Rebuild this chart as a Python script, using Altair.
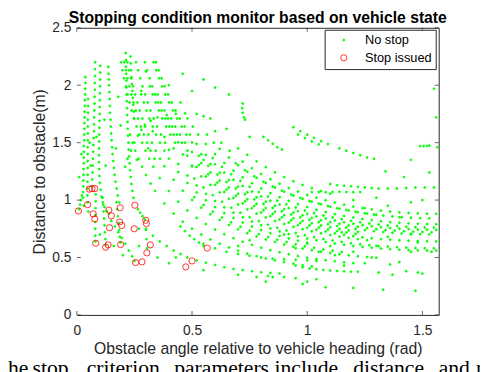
import altair as alt
import pandas as pd

# ---------------- data ----------------
# "No stop" samples, grouped by visible trajectory (angle rad, distance m)
st1_x = [0.037,0.037,0.036,0.036,0.035,0.035,0.034,0.034,0.033,0.033,0.032,0.032,0.031,0.031,0.030,0.030,0.029,0.029,0.028,0.028,0.027,0.027,0.022,0.018,0.014,0.010]
st1_y = [2.07,2.02,1.97,1.92,1.87,1.82,1.77,1.72,1.67,1.62,1.57,1.52,1.47,1.42,1.37,1.32,1.27,1.22,1.17,1.12,1.07,1.02,1.04,1.00,0.96,0.92]
st2_x = [0.080,0.079,0.079,0.078,0.078,0.077,0.077,0.076,0.075,0.075,0.074,0.073,0.072,0.071,0.070,0.069,0.068,0.067,0.066]
st2_y = [2.20,2.14,2.08,2.02,1.96,1.90,1.84,1.78,1.72,1.66,1.60,1.54,1.48,1.42,1.36,1.30,1.24,1.18,1.12]
st3_x = [0.102,0.102,0.101,0.101,0.100,0.100,0.099,0.099,0.098,0.098,0.097,0.097,0.097,0.096,0.096,0.097,0.098,0.100,0.103,0.107,0.113,0.120,0.130,0.140]
st3_y = [2.17,2.11,2.05,1.99,1.93,1.87,1.81,1.75,1.69,1.63,1.57,1.51,1.45,1.39,1.33,1.27,1.21,1.15,1.09,1.03,0.98,0.94,0.905,0.88]
st4_x = [0.137,0.138,0.139,0.140,0.141,0.142,0.143,0.144,0.146,0.147,0.149,0.151,0.153,0.155,0.158,0.161,0.164,0.168,0.173,0.178,0.184]
st4_y = [2.16,2.10,2.05,2.00,1.94,1.88,1.82,1.76,1.70,1.64,1.58,1.52,1.46,1.40,1.34,1.28,1.22,1.16,1.10,1.04,0.98]
st5_x = [0.212,0.213,0.213,0.214,0.215,0.215,0.216,0.217,0.218,0.219,0.220,0.221,0.222,0.224,0.225,0.227,0.229,0.231,0.234,0.237,0.241,0.246]
st5_y = [2.28,2.22,2.16,2.10,2.04,1.98,1.92,1.86,1.80,1.74,1.68,1.62,1.56,1.50,1.44,1.38,1.32,1.26,1.20,1.14,1.08,1.02]
st6_x = [0.049,0.049,0.049,0.048,0.048,0.048,0.048,0.047,0.047,0.047,0.047,0.047,0.046,0.046,0.046,0.047]
st6_y = [1.88,1.82,1.76,1.70,1.64,1.58,1.52,1.46,1.40,1.34,1.28,1.22,1.16,1.10,1.04,0.98]
st7_x = [0.082,0.082,0.081,0.081,0.080,0.080,0.080,0.081]
st7_y = [1.05,0.99,0.93,0.87,0.81,0.75,0.69,0.64]
st8_x = [0.112,0.114,0.116,0.118,0.120,0.122,0.124,0.126]
st8_y = [1.02,0.96,0.90,0.84,0.78,0.72,0.66,0.61]
st9_x = [0.150,0.165,0.180,0.195,0.210,0.225,0.240,0.250]
st9_y = [0.82,0.77,0.72,0.67,0.62,0.56,0.51,0.47]
st10_x = [0.172,0.175,0.178,0.181,0.184,0.187,0.189]
st10_y = [0.98,0.92,0.86,0.80,0.74,0.68,0.63]
st11_x = [0.265,0.275,0.285,0.295,0.300,0.303,0.305]
st11_y = [0.92,0.89,0.86,0.83,0.74,0.66,0.58]
st12_x = [0.233,0.234,0.236,0.237,0.239,0.241,0.243,0.245,0.247,0.249]
st12_y = [2.25,2.19,2.13,2.07,2.01,1.95,1.89,1.83,1.77,1.71]
st13_x = [0.45,0.47,0.49,0.51,0.53,0.55]
st13_y = [0.77,0.73,0.69,0.66,0.63,0.60]

low1_x = [0.30,0.33,0.36,0.39,0.42,0.45,0.48,0.52,0.56,0.60,0.64,0.68,0.72,0.76,0.80,0.84,0.88]
low1_y = [0.75,0.69,0.64,0.60,0.56,0.53,0.50,0.475,0.455,0.435,0.415,0.40,0.39,0.38,0.372,0.366,0.36]
low2_x = [0.55,0.60,0.65,0.70,0.75,0.80,0.85,0.90,0.95,1.00,1.04]
low2_y = [0.62,0.58,0.55,0.53,0.515,0.50,0.49,0.485,0.48,0.475,0.47]
low3_x = [0.95,0.98,1.01,1.04,1.07,1.10,1.13,1.16,1.19,1.22]
low3_y = [0.43,0.415,0.405,0.398,0.392,0.387,0.383,0.38,0.377,0.375]

h1_x = [0.231,0.242,0.254,0.268,0.283,0.30,0.32,0.34,0.38,0.42,0.46,0.50,0.54,0.58,0.62,0.66,0.70,0.74,0.78,0.82,0.86,0.90,0.94,0.98,1.02]
h1_y = [1.57,1.50,1.43,1.36,1.29,1.218,1.144,1.080,0.971,0.883,0.811,0.751,0.700,0.657,0.620,0.587,0.559,0.534,0.512,0.492,0.475,0.460,0.446,0.433,0.423]
h2_x = [0.192,0.198,0.205,0.213,0.221,0.229,0.238,0.248,0.259,0.271,0.284,0.298,0.314,0.332,0.36,0.40,0.44,0.48,0.52,0.56,0.60,0.64,0.68,0.72,0.76,0.80,0.84,0.88,0.92,0.96,1.00,1.04,1.08,1.12,1.16,1.20]
h2_y = [2.20,2.13,2.06,1.99,1.92,1.85,1.78,1.71,1.64,1.57,1.50,1.43,1.36,1.29,1.192,1.079,0.986,0.910,0.845,0.791,0.744,0.703,0.668,0.637,0.610,0.585,0.564,0.545,0.528,0.513,0.499,0.487,0.476,0.467,0.458,0.451]
h3_x = [0.220,0.227,0.235,0.244,0.253,0.263,0.273,0.285,0.297,0.311,0.326,0.342,0.361,0.38,0.42,0.46,0.50,0.54,0.58,0.62,0.66,0.70,0.74,0.78,0.82,0.86,0.90,0.94,0.98,1.02,1.06,1.10,1.14,1.18,1.22,1.26,1.30]
h3_y = [2.20,2.13,2.06,1.99,1.92,1.85,1.78,1.71,1.64,1.57,1.50,1.43,1.36,1.294,1.177,1.081,1.001,0.934,0.876,0.826,0.783,0.745,0.712,0.683,0.657,0.634,0.613,0.594,0.578,0.564,0.550,0.539,0.528,0.519,0.511,0.504,0.498]
h4_x = [0.280,0.291,0.302,0.315,0.329,0.344,0.361,0.380,0.40,0.44,0.48,0.52,0.56,0.60,0.64,0.68,0.72,0.76,0.80,0.84,0.88,0.92,0.96,1.00]
h4_y = [1.92,1.85,1.78,1.71,1.64,1.57,1.50,1.43,1.361,1.244,1.148,1.066,0.998,0.939,0.887,0.843,0.804,0.770,0.739,0.712,0.688,0.666,0.647,0.630]
h5_x = [0.257,0.266,0.275,0.285,0.296,0.308,0.320,0.334,0.348,0.365,0.383,0.40,0.44,0.48,0.52,0.56,0.60,0.64,0.68,0.72,0.76,0.80,0.84,0.88,0.92,0.96,1.00,1.04,1.08,1.12,1.16,1.20,1.24,1.28,1.32,1.36,1.40,1.44,1.48,1.52,1.56]
h5_y = [2.20,2.13,2.06,1.99,1.92,1.85,1.78,1.71,1.64,1.57,1.50,1.438,1.315,1.213,1.127,1.054,0.992,0.937,0.890,0.850,0.813,0.781,0.752,0.727,0.704,0.684,0.665,0.650,0.635,0.622,0.611,0.601,0.592,0.585,0.578,0.573,0.568,0.565,0.562,0.561,0.560]
h6_x = [0.317,0.329,0.342,0.356,0.371,0.388,0.406,0.426,0.46,0.50,0.54,0.58,0.62,0.66,0.70,0.74,0.78,0.82,0.86,0.90,0.94,0.98,1.02,1.06,1.10,1.14,1.18,1.22,1.26]
h6_y = [1.99,1.92,1.85,1.78,1.71,1.64,1.57,1.50,1.397,1.293,1.206,1.132,1.067,1.011,0.962,0.919,0.882,0.848,0.818,0.792,0.768,0.746,0.728,0.711,0.696,0.683,0.671,0.660,0.651]
h7_x = [0.295,0.305,0.316,0.327,0.340,0.353,0.368,0.384,0.401,0.420,0.44,0.48,0.52,0.56,0.60,0.64,0.68,0.72,0.76,0.80,0.84,0.88,0.92,0.96,1.00,1.04,1.08,1.12,1.16,1.20,1.24,1.28,1.32,1.36,1.40,1.44,1.48,1.52,1.56]
h7_y = [2.20,2.13,2.06,1.99,1.92,1.85,1.78,1.71,1.64,1.57,1.503,1.386,1.288,1.205,1.133,1.071,1.018,0.971,0.929,0.892,0.860,0.831,0.804,0.781,0.760,0.742,0.726,0.711,0.698,0.687,0.676,0.668,0.660,0.655,0.650,0.646,0.643,0.641,0.640]
h8_x = [0.409,0.428,0.448,0.470,0.50,0.54,0.58,0.62,0.66,0.70,0.74,0.78,0.82,0.86,0.90,0.94,0.98,1.02,1.06,1.10,1.14,1.18,1.22]
h8_y = [1.71,1.64,1.57,1.50,1.418,1.323,1.241,1.170,1.109,1.055,1.008,0.967,0.930,0.898,0.868,0.842,0.819,0.798,0.779,0.763,0.749,0.736,0.724]
h9_x = [0.333,0.345,0.357,0.370,0.384,0.400,0.417,0.435,0.455,0.476,0.50,0.54,0.58,0.62,0.66,0.70,0.74,0.78,0.82,0.86,0.90,0.94,0.98,1.02,1.06,1.10,1.14,1.18,1.22,1.26,1.30,1.34,1.38,1.42,1.46,1.50,1.54]
h9_y = [2.20,2.13,2.06,1.99,1.92,1.85,1.78,1.71,1.64,1.57,1.502,1.400,1.314,1.239,1.174,1.117,1.068,1.024,0.985,0.950,0.919,0.891,0.867,0.845,0.825,0.808,0.793,0.779,0.767,0.756,0.747,0.739,0.733,0.728,0.724,0.722,0.720]
h10_x = [0.343,0.355,0.368,0.381,0.396,0.412,0.429,0.447,0.468,0.491,0.52,0.56,0.60,0.64,0.68,0.72,0.76,0.80,0.84,0.88,0.92,0.96,1.00,1.04,1.08,1.12,1.16,1.20,1.24,1.28,1.32,1.36,1.40,1.44,1.48,1.52,1.56]
h10_y = [2.20,2.13,2.06,1.99,1.92,1.85,1.78,1.71,1.64,1.57,1.489,1.393,1.311,1.239,1.177,1.123,1.074,1.032,0.994,0.961,0.930,0.904,0.879,0.858,0.839,0.822,0.807,0.794,0.782,0.773,0.764,0.757,0.751,0.747,0.743,0.741,0.740]
h11_x = [0.480,0.503,0.527,0.56,0.60,0.64,0.68,0.72,0.76,0.80,0.84,0.88,0.92,0.96,1.00,1.04,1.08,1.12,1.16,1.20,1.24,1.28,1.32,1.36,1.40,1.44,1.48,1.52,1.56]
h11_y = [1.71,1.64,1.57,1.488,1.399,1.322,1.256,1.198,1.147,1.101,1.061,1.025,0.993,0.965,0.939,0.916,0.896,0.878,0.862,0.848,0.835,0.825,0.815,0.808,0.802,0.797,0.793,0.791,0.790]
h12_x = [0.565,0.594,0.62,0.66,0.70,0.74,0.78,0.82,0.86,0.90,0.94,0.98,1.02,1.06,1.10,1.14,1.18,1.22,1.26,1.30]
h12_y = [1.57,1.50,1.446,1.370,1.304,1.246,1.194,1.149,1.109,1.073,1.040,1.011,0.986,0.963,0.942,0.925,0.909,0.895,0.882,0.872]
h13_x = [0.627,0.663,0.72,0.76,0.80,0.84,0.88,0.92,0.96,1.00,1.04,1.08,1.12,1.16,1.20,1.24,1.28,1.32,1.36,1.40,1.44,1.48,1.52,1.56]
h13_y = [1.50,1.43,1.335,1.278,1.227,1.182,1.142,1.106,1.074,1.045,1.021,0.998,0.978,0.960,0.944,0.930,0.919,0.908,0.900,0.893,0.888,0.884,0.881,0.880]
h14_x = [0.74,0.78,0.82,0.86,0.90,0.94,0.98,1.02,1.06,1.10]
h14_y = [1.394,1.337,1.286,1.241,1.200,1.164,1.132,1.104,1.077,1.055]
h15_x = [0.51,0.55,0.59,0.63,0.67,0.71,0.75,0.79,0.83,0.87,0.91,0.95,0.99,1.03,1.07,1.11,1.15,1.19,1.23,1.27,1.31,1.35,1.39,1.43,1.47,1.51,1.55]
h15_y = [1.188,1.110,1.043,0.985,0.934,0.890,0.851,0.817,0.786,0.759,0.735,0.713,0.694,0.677,0.661,0.648,0.636,0.625,0.615,0.607,0.600,0.595,0.590,0.586,0.583,0.581,0.580]
h16_x = [0.53,0.57,0.61,0.65,0.69,0.73,0.77,0.81,0.85,0.89,0.93,0.97,1.01,1.05,1.09,1.13,1.17,1.21,1.25,1.29,1.33,1.37,1.41,1.45,1.49,1.53]
h16_y = [1.385,1.298,1.222,1.157,1.100,1.050,1.006,0.967,0.932,0.902,0.874,0.849,0.827,0.807,0.790,0.774,0.761,0.748,0.738,0.729,0.721,0.715,0.709,0.706,0.703,0.701]
h17_x = [0.59,0.63,0.67,0.71,0.75,0.79,0.83,0.87,0.91,0.95,0.99,1.03,1.07,1.11,1.15,1.19,1.23,1.27,1.31,1.35,1.39,1.43,1.47,1.51,1.55]
h17_y = [1.366,1.290,1.224,1.167,1.116,1.070,1.031,0.995,0.963,0.935,0.909,0.887,0.866,0.849,0.833,0.819,0.806,0.796,0.787,0.779,0.773,0.768,0.764,0.762,0.760]
h18_x = [0.69,0.73,0.77,0.81,0.85,0.89,0.93,0.97,1.01,1.05,1.09,1.13,1.17,1.21,1.25,1.29,1.33,1.37,1.41,1.45,1.49,1.53]
h18_y = [1.320,1.260,1.207,1.160,1.118,1.082,1.048,1.019,0.992,0.969,0.948,0.929,0.913,0.898,0.885,0.874,0.865,0.858,0.851,0.847,0.843,0.841]
h19_x = [0.51,0.55,0.59,0.63,0.67,0.71,0.75,0.79,0.83,0.87,0.91,0.95,0.99,1.03,1.07,1.11,1.15]
h19_y = [1.025,0.957,0.899,0.849,0.806,0.768,0.734,0.704,0.678,0.655,0.634,0.615,0.598,0.584,0.570,0.559,0.548]
h20_x = [0.351,0.365,0.380,0.396,0.414,0.434,0.456,0.480,0.53,0.57,0.61,0.65,0.69,0.73,0.77,0.81,0.85,0.89,0.93,0.97,1.01,1.05,1.09,1.13,1.17,1.21]
h20_y = [1.92,1.85,1.78,1.71,1.64,1.57,1.50,1.43,1.306,1.224,1.152,1.091,1.037,0.990,0.948,0.911,0.878,0.850,0.824,0.801,0.779,0.761,0.744,0.730,0.717,0.706]
h21_x = [0.206,0.213,0.220,0.228,0.237,0.246,0.256,0.266,0.278,0.291,0.305,0.320,0.337]
h21_y = [2.20,2.13,2.06,1.99,1.92,1.85,1.78,1.71,1.64,1.57,1.50,1.43,1.36]

f1_x = [1.10,1.13,1.16,1.19,1.22,1.25,1.28,1.31,1.35,1.39,1.43,1.47,1.51,1.55]
f1_y = [1.14,1.13,1.125,1.12,1.115,1.11,1.105,1.10,1.10,1.10,1.105,1.11,1.11,1.11]
f2_x = [1.02,1.05,1.08,1.11,1.14,1.17,1.20,1.23]
f2_y = [1.07,1.07,1.068,1.07,1.072,1.07,1.069,1.07]
seg1_x = [0.94,0.97,1.00,1.03,1.06,1.09,0.96,0.99,1.02,1.05]
seg1_y = [1.634,1.600,1.569,1.541,1.513,1.488,1.57,1.54,1.51,1.485]
seg2_x = [1.14,1.17,1.20,1.23,1.26,1.29]
seg2_y = [1.45,1.43,1.41,1.39,1.37,1.36]
seg3_x = [0.81,0.83,0.85,0.87,0.89]
seg3_y = [1.55,1.52,1.49,1.46,1.44]
seg4_x = [0.72,0.718,0.72,0.725,0.73]
seg4_y = [1.84,1.80,1.76,1.72,1.70]
seg5_x = [1.49,1.505,1.52,1.53]
seg5_y = [1.47,1.47,1.47,1.475]
arc_x = [0.21,0.22,0.235,0.25,0.265,0.28,0.295,0.32,0.35,0.39,0.43,0.47,0.52,0.55,0.58]
arc_y = [1.29,1.36,1.43,1.50,1.56,1.61,1.655,1.69,1.72,1.74,1.75,1.755,1.75,1.73,1.71]

scatter_x = [0.83,0.85,0.90,0.95,1.04,1.08,1.20,1.33,1.47,1.31,1.37,1.43,1.48,1.50,1.40,1.36,1.54,1.48,1.45,1.25,1.16,1.12,0.98,1.00,0.78,0.82,
             0.70,0.75,0.90,1.00,1.10,1.20,1.30,1.28,1.05,0.95,1.15,1.35,1.45,1.25,1.35,1.45,1.50,1.40,1.30,1.20,1.55,1.56,1.565,1.45,1.34,1.53,1.42,
             0.66,0.60,0.55,0.50,0.46,0.45,0.40,0.30,0.28,0.18,0.19,0.17,0.26,0.31,0.33,0.38,0.42,0.50,0.55,0.60,0.65,0.70,0.75,
             0.02,0.01,0.055,0.06,0.12,0.125,0.085,0.05,0.03,0.10,0.16,0.20,0.27,0.35,0.40,0.43,0.55,0.70,0.27]
scatter_y = [0.34,0.33,0.33,0.32,0.31,0.24,0.235,0.22,0.21,0.37,0.35,0.38,0.37,0.36,0.46,0.44,0.55,0.63,0.55,0.45,0.43,0.52,0.27,0.29,0.33,0.29,
             0.60,0.65,0.70,0.62,0.60,0.55,0.60,0.50,0.55,0.58,0.72,0.68,0.70,0.93,0.95,0.98,1.00,0.85,1.02,1.00,1.97,1.72,1.46,1.35,1.25,1.24,1.20,
             1.92,1.98,2.05,1.95,2.10,1.85,2.00,2.12,1.95,1.90,1.65,1.45,1.35,1.45,1.60,1.55,1.45,1.30,1.35,1.60,1.62,1.45,1.55,
             1.40,1.20,1.50,1.30,1.70,1.30,1.55,0.90,0.95,0.70,0.60,0.52,0.60,0.50,0.45,0.50,0.39,0.35,0.75]

# "Stop issued" events
stop_x = [0.007,0.047,0.054,0.066,0.078,0.071,0.078,0.082,0.125,0.136,0.139,0.142,0.150,0.188,0.186,0.195,0.190,0.249,0.252,0.255,0.283,0.299,0.302,0.304,0.319,0.473,0.500,0.566]
stop_y = [0.905,0.96,1.095,1.10,1.10,0.88,0.835,0.624,0.59,0.61,0.913,0.759,0.863,0.933,0.809,0.779,0.613,0.75,0.955,0.456,0.462,0.824,0.796,0.54,0.61,0.418,0.47,0.582]

series = ["No stop", "Stop issued"]
x_ticks = [0, 0.5, 1, 1.5]
y_ticks = [0, 0.5, 1, 1.5, 2, 2.5]
title_text = "Stopping condition monitor based on vehicle state"
caption_words = ["he", "stop", "criterion", "parameters", "include", "distance", "and", "re"]

# ---------------- build table ----------------
green = [(st1_x, st1_y), (st2_x, st2_y), (st3_x, st3_y), (st4_x, st4_y), (st5_x, st5_y),
         (st6_x, st6_y), (st7_x, st7_y), (st8_x, st8_y), (st9_x, st9_y), (st10_x, st10_y),
         (st11_x, st11_y), (st12_x, st12_y), (st13_x, st13_y),
         (low1_x, low1_y), (low2_x, low2_y), (low3_x, low3_y),
         (h1_x, h1_y), (h2_x, h2_y), (h3_x, h3_y), (h4_x, h4_y), (h5_x, h5_y), (h6_x, h6_y),
         (h7_x, h7_y), (h8_x, h8_y), (h9_x, h9_y), (h10_x, h10_y), (h11_x, h11_y),
         (h12_x, h12_y), (h13_x, h13_y), (h14_x, h14_y), (h15_x, h15_y), (h16_x, h16_y),
         (h17_x, h17_y), (h18_x, h18_y), (h19_x, h19_y), (h20_x, h20_y), (h21_x, h21_y),
         (f1_x, f1_y), (f2_x, f2_y), (seg1_x, seg1_y), (seg2_x, seg2_y), (seg3_x, seg3_y),
         (seg4_x, seg4_y), (seg5_x, seg5_y), (arc_x, arc_y), (scatter_x, scatter_y)]
rows = []
for xs, ys in green:
    for a, b in zip(xs, ys):
        rows.append({"angle": a, "dist": b, "status": series[0]})
for a, b in zip(stop_x, stop_y):
    rows.append({"angle": a, "dist": b, "status": series[1]})
df = pd.DataFrame(rows)

# ---------------- chart ----------------
W, H = 368, 292
AX = "#262626"
FONT = "Liberation Sans"

xscale = alt.Scale(domain=[0, 1.5708], nice=False, zero=False)
yscale = alt.Scale(domain=[0, 2.5], nice=False, zero=False)

leg = alt.Legend(title=None, orient="none", legendX=252, legendY=2,
                 strokeColor=AX, fillColor="white", padding=4, cornerRadius=0,
                 symbolOffset=9, labelOffset=15, rowPadding=4,
                 labelFont=FONT, labelFontSize=13, labelColor="black",
                 symbolStrokeWidth=0.8, symbolType="circle")

points = alt.Chart(df).mark_point(strokeWidth=0.8, opacity=1, shape="circle").encode(
    x=alt.X("angle:Q", scale=xscale,
            axis=alt.Axis(orient="bottom", values=x_ticks, format="~g",
                          title="Obstacle angle relative to vehicle heading (rad)",
                          domain=True, ticks=False, grid=False, labelFlush=False, labelPadding=9,
                          titleBaseline="alphabetic", titleY=39)),
    y=alt.Y("dist:Q", scale=yscale,
            axis=alt.Axis(orient="left", values=y_ticks, format="~g", title="Distance to obstacle(m)",
                          domain=False, ticks=False, grid=False, labelFlush=False, labelPadding=6,
                          titleBaseline="alphabetic", titleX=-33)),
    fill=alt.Fill("status:N", scale=alt.Scale(domain=series, range=["#00ff00", "transparent"]), legend=leg),
    stroke=alt.Stroke("status:N", scale=alt.Scale(domain=series, range=["#00ff00", "#ff0000"]), legend=leg),
    size=alt.Size("status:N", scale=alt.Scale(domain=series, range=[4, 40]), legend=leg),
)

xt = pd.DataFrame({"angle": x_ticks})
yt = pd.DataFrame({"dist": y_ticks})
blank = dict(labels=False, ticks=False, grid=False, title=None)
# inward tick marks on all four sides; top and right axis lines close the box
tick_bottom = alt.Chart(xt).mark_tick(orient="vertical", size=4, thickness=1, color=AX).encode(
    x=alt.X("angle:Q", scale=xscale, axis=alt.Axis(orient="bottom", domain=False, **blank)),
    y=alt.value(H - 2))
tick_top = alt.Chart(xt).mark_tick(orient="vertical", size=4, thickness=1, color=AX).encode(
    x=alt.X("angle:Q", scale=xscale, axis=alt.Axis(orient="top", domain=True, **blank)),
    y=alt.value(2))
tick_left = alt.Chart(yt).mark_tick(orient="horizontal", size=4, thickness=1, color=AX).encode(
    y=alt.Y("dist:Q", scale=yscale, axis=alt.Axis(orient="left", domain=False, **blank)),
    x=alt.value(2))
tick_right = alt.Chart(yt).mark_tick(orient="horizontal", size=4, thickness=1, color=AX).encode(
    y=alt.Y("dist:Q", scale=yscale, axis=alt.Axis(orient="right", domain=True, **blank)),
    x=alt.value(W - 2))

# chart title, placed just above the box
title_layer = alt.Chart(pd.DataFrame({"t": [title_text]})).mark_text(
    font=FONT, fontSize=16, fontWeight="bold", color="black", align="center", baseline="alphabetic"
).encode(x=alt.value(W / 2), y=alt.value(-5), text="t:N")

# cropped caption line of the source page below the figure
caption_x = [-70, -45, 10, 99, 201, 281, 368, 406]
caption_layers = []
for w, px in zip(caption_words, caption_x):
    caption_layers.append(
        alt.Chart(pd.DataFrame({"word": [w]})).mark_text(
            font="Liberation Serif", fontSize=22, align="left", baseline="alphabetic", color="black"
        ).encode(x=alt.value(px), y=alt.value(353), text="word:N")
    )

chart = alt.layer(points, tick_bottom, tick_top, tick_left, tick_right, title_layer,
                  *caption_layers).properties(
    width=W, height=H,
    autosize=alt.AutoSizeParams(type="none"),
    padding={"left": 70, "top": 17, "right": 42, "bottom": 60},
    background="white",
).resolve_axis(x="independent", y="independent").configure_view(stroke=None).configure_axis(
    labelFont=FONT, labelFontSize=14, labelColor=AX,
    titleFont=FONT, titleFontSize=16, titleFontWeight="normal", titleColor=AX,
    domainColor=AX, domainWidth=1,
)

chart.save("out.html", embed_options={"renderer": "svg", "actions": False})
